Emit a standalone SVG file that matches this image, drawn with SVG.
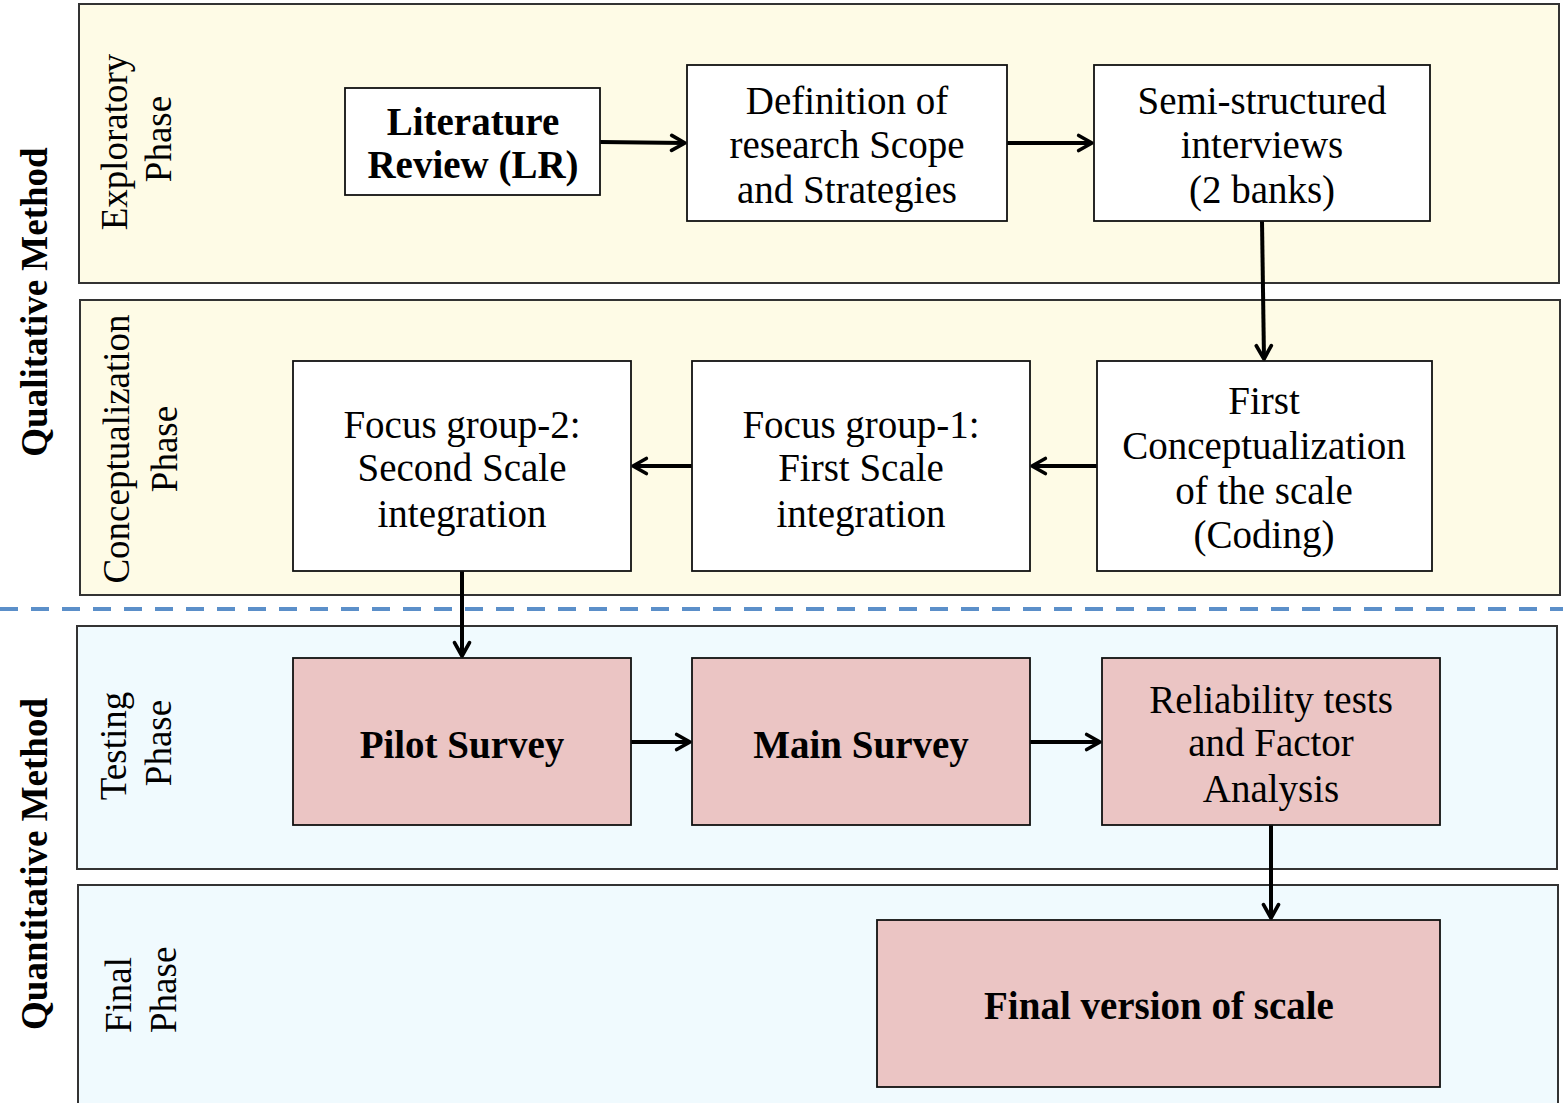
<svg xmlns="http://www.w3.org/2000/svg" width="1563" height="1103" viewBox="0 0 1563 1103">
<defs>
<style>
.panelY{fill:#FEFBE6;stroke:#333;stroke-width:2}
.panelB{fill:#F0FAFE;stroke:#333;stroke-width:2}
.box{fill:#fff;stroke:#111;stroke-width:1.8}
.pink{fill:#EBC5C4;stroke:#111;stroke-width:1.8}
text{font-family:"Liberation Serif","Times New Roman",serif;fill:#000}
.t{font-size:39px;text-anchor:middle}
.b{font-weight:bold}
.side{font-size:37px;font-weight:bold;text-anchor:middle}
.ph{font-size:37px;text-anchor:middle}
.conn{stroke:#000;stroke-width:4;fill:none;marker-end:url(#ah)}
</style>
<marker id="ah" viewBox="0 0 12 12" refX="10" refY="6" markerWidth="5" markerHeight="5" orient="auto" markerUnits="strokeWidth">
<path d="M2,1.5 L10,6 L2,10.5" fill="none" stroke="#000" stroke-width="2.2" stroke-linecap="round" stroke-linejoin="round"/>
</marker>
</defs>

<g id="panels">
<rect class="panelY" x="79" y="4" width="1480" height="279"/>
<rect class="panelY" x="80" y="300" width="1480" height="295"/>
<rect class="panelB" x="77" y="626" width="1480" height="243"/>
<rect class="panelB" x="78" y="885" width="1480" height="230"/>
</g>

<line id="divider" x1="0" y1="609" x2="1563" y2="609" stroke="#5B8FC9" stroke-width="4" stroke-dasharray="18,13"/>

<g id="labels">
<text class="side" transform="translate(47,302) rotate(-90)">Qualitative Method</text>
<text class="side" transform="translate(47,864) rotate(-90)">Quantitative Method</text>
<text class="ph" transform="translate(127,142) rotate(-90)">Exploratory</text>
<text class="ph" transform="translate(171,139) rotate(-90)">Phase</text>
<text class="ph" transform="translate(129,449) rotate(-90)">Conceptualization</text>
<text class="ph" transform="translate(177,449) rotate(-90)">Phase</text>
<text class="ph" transform="translate(126,746) rotate(-90)">Testing</text>
<text class="ph" transform="translate(171,743) rotate(-90)">Phase</text>
<text class="ph" style="text-anchor:start" transform="translate(131,1033) rotate(-90)">Final</text>
<text class="ph" style="text-anchor:start" transform="translate(176,1033) rotate(-90)">Phase</text>
</g>

<g id="connectors">
<line class="conn" x1="600" y1="142" x2="685" y2="143"/>
<line class="conn" x1="1007" y1="143" x2="1092" y2="143"/>
<line class="conn" x1="1262" y1="221" x2="1264" y2="359"/>
<line class="conn" x1="1097" y1="466" x2="1032" y2="466"/>
<line class="conn" x1="692" y1="466" x2="633" y2="466"/>
<line class="conn" x1="462" y1="571" x2="462" y2="656"/>
<line class="conn" x1="631" y1="742" x2="690" y2="742"/>
<line class="conn" x1="1030" y1="742" x2="1100" y2="742"/>
<line class="conn" x1="1271" y1="825" x2="1271" y2="918"/>
</g>

<g id="n-lr">
<rect class="box" x="345" y="88" width="255" height="107"/>
<text class="t b" x="473" y="135">Literature</text>
<text class="t b" x="473" y="178">Review (LR)</text>
</g>
<g id="n-def">
<rect class="box" x="687" y="65" width="320" height="156"/>
<text class="t" x="847" y="114">Definition of</text>
<text class="t" x="847" y="158">research Scope</text>
<text class="t" x="847" y="203">and Strategies</text>
</g>
<g id="n-semi">
<rect class="box" x="1094" y="65" width="336" height="156"/>
<text class="t" x="1262" y="114">Semi-structured</text>
<text class="t" x="1262" y="158">interviews</text>
<text class="t" x="1262" y="203">(2 banks)</text>
</g>
<g id="n-first">
<rect class="box" x="1097" y="361" width="335" height="210"/>
<text class="t" x="1264" y="414">First</text>
<text class="t" x="1264" y="459">Conceptualization</text>
<text class="t" x="1264" y="504">of the scale</text>
<text class="t" x="1264" y="548">(Coding)</text>
</g>
<g id="n-fg1">
<rect class="box" x="692" y="361" width="338" height="210"/>
<text class="t" x="861" y="438">Focus group-1:</text>
<text class="t" x="861" y="481">First Scale</text>
<text class="t" x="861" y="527">integration</text>
</g>
<g id="n-fg2">
<rect class="box" x="293" y="361" width="338" height="210"/>
<text class="t" x="462" y="438">Focus group-2:</text>
<text class="t" x="462" y="481">Second Scale</text>
<text class="t" x="462" y="527">integration</text>
</g>
<g id="n-pilot">
<rect class="pink" x="293" y="658" width="338" height="167"/>
<text class="t b" x="462" y="758">Pilot Survey</text>
</g>
<g id="n-main">
<rect class="pink" x="692" y="658" width="338" height="167"/>
<text class="t b" x="861" y="758">Main Survey</text>
</g>
<g id="n-rel">
<rect class="pink" x="1102" y="658" width="338" height="167"/>
<text class="t" x="1271" y="713">Reliability tests</text>
<text class="t" x="1271" y="756">and Factor</text>
<text class="t" x="1271" y="802">Analysis</text>
</g>
<g id="n-final">
<rect class="pink" x="877" y="920" width="563" height="167"/>
<text class="t b" x="1159" y="1019">Final version of scale</text>
</g>
</svg>
